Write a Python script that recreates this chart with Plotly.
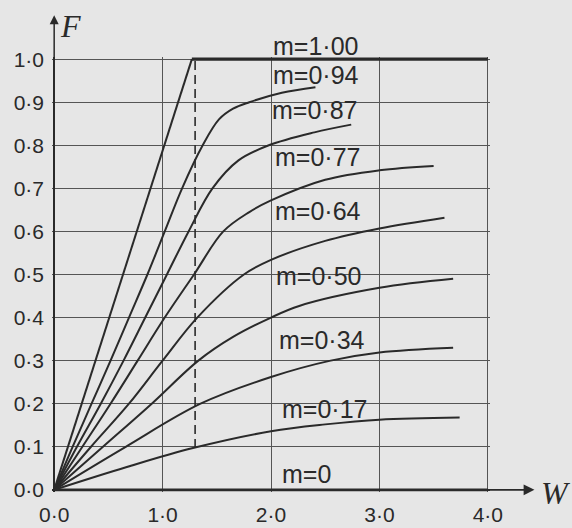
import plotly.graph_objects as go

# ---- data ----
x_tick_vals = [0, 1, 2, 3, 4]
x_tick_text = ["0·0", "1·0", "2·0", "3·0", "4·0"]
y_tick_vals = [0.0, 0.1, 0.2, 0.3, 0.4, 0.5, 0.6, 0.7, 0.8, 0.9, 1.0]
y_tick_text = ["0·0", "0·1", "0·2", "0·3", "0·4", "0·5", "0·6", "0·7", "0·8", "0·9", "1·0"]

W_m100 = [0, 1.27, 4.0]
F_m100 = [0, 1.0, 1.0]
W_m094 = [0, 0.17, 0.345, 0.52, 0.69, 0.86, 1.02, 1.18, 1.37, 1.52, 1.65, 1.80, 2.10, 2.41]
F_m094 = [0, 0.10, 0.20, 0.30, 0.40, 0.50, 0.60, 0.70, 0.80, 0.86, 0.885, 0.90, 0.922, 0.935]
W_m087 = [0, 0.21, 0.43, 0.64, 0.84, 1.04, 1.24, 1.46, 1.70, 1.98, 2.40, 2.74]
F_m087 = [0, 0.10, 0.20, 0.30, 0.40, 0.50, 0.60, 0.70, 0.765, 0.80, 0.83, 0.848]
W_m077 = [0, 0.26, 0.52, 0.77, 1.02, 1.29, 1.56, 1.80, 2.00, 2.50, 3.00, 3.50]
F_m077 = [0, 0.10, 0.20, 0.30, 0.40, 0.50, 0.60, 0.645, 0.672, 0.72, 0.742, 0.752]
W_m064 = [0, 0.34, 0.69, 1.00, 1.32, 1.75, 2.00, 2.50, 3.00, 3.60]
F_m064 = [0, 0.10, 0.20, 0.30, 0.40, 0.50, 0.534, 0.578, 0.607, 0.632]
W_m050 = [0, 0.45, 0.90, 1.33, 1.65, 2.00, 2.26, 3.00, 3.68]
F_m050 = [0, 0.10, 0.20, 0.30, 0.355, 0.40, 0.427, 0.469, 0.49]
W_m034 = [0, 0.66, 1.35, 2.00, 2.55, 3.00, 3.68]
F_m034 = [0, 0.10, 0.20, 0.262, 0.30, 0.319, 0.33]
W_m017 = [0, 0.67, 1.28, 2.00, 2.50, 3.00, 3.74]
F_m017 = [0, 0.053, 0.097, 0.136, 0.152, 0.163, 0.168]
W_m000 = [0, 4.0]
F_m000 = [0, 0]

W_dash = [1.30, 1.30]
F_dash = [0.097, 1.0]

curve_labels = ["m=1·00", "m=0·94", "m=0·87", "m=0·77", "m=0·64", "m=0·50", "m=0·34", "m=0·17", "m=0"]
label_W = [2.01, 2.01, 2.0, 2.03, 2.03, 2.04, 2.06, 2.09, 2.09]
label_F = [1.030, 0.963, 0.882, 0.773, 0.647, 0.497, 0.348, 0.188, 0.037]

# ---- styling ----
INK = "#2a2a2a"
GRID = "#555555"
BG = "#e6e6e6"

W_px, H_px = 572, 528
x0px, x4px = 54, 488
y0px, y1px = 490, 59
sx = (x4px - x0px) / 4.0
sy = (y0px - y1px) / 1.0
xr = [-0.02, 4.02]
yr = [-0.005, 1.005]
ml = x0px + xr[0] * sx
pw = (xr[1] - xr[0]) * sx
mr = W_px - ml - pw
mt = y1px - (yr[1] - 1.0) * sy
ph = (yr[1] - yr[0]) * sy
mb = H_px - mt - ph

fig = go.Figure()

curves = [
    (W_m094, F_m094), (W_m087, F_m087), (W_m077, F_m077), (W_m064, F_m064),
    (W_m050, F_m050), (W_m034, F_m034), (W_m017, F_m017),
]
for w, f in curves:
    fig.add_trace(go.Scatter(x=w, y=f, mode="lines",
                             line=dict(color=INK, width=2, shape="spline", smoothing=1.0),
                             hoverinfo="skip", showlegend=False))

fig.add_trace(go.Scatter(x=W_m100[:2], y=F_m100[:2], mode="lines",
                         line=dict(color=INK, width=2), showlegend=False, hoverinfo="skip"))
fig.add_trace(go.Scatter(x=W_m100[1:], y=F_m100[1:], mode="lines",
                         line=dict(color=INK, width=3.2), showlegend=False, hoverinfo="skip"))
fig.add_trace(go.Scatter(x=W_m000, y=F_m000, mode="lines",
                         line=dict(color=INK, width=2.6), showlegend=False, hoverinfo="skip"))
fig.add_trace(go.Scatter(x=W_dash, y=F_dash, mode="lines",
                         line=dict(color=INK, width=1.6, dash="9px,5px"),
                         showlegend=False, hoverinfo="skip"))

LABEL_FONT = dict(family="Liberation Sans, Arial, sans-serif", size=25, color=INK)
annotations = []
for t, w, f in zip(curve_labels, label_W, label_F):
    annotations.append(dict(x=(x0px + w * sx - ml) / pw, y=(H_px - mb - (y0px - f * sy)) / ph,
                            xref="paper", yref="paper", text=t, showarrow=False,
                            xanchor="left", yanchor="middle", borderpad=0, font=LABEL_FONT))

# axis arrows
annotations.append(dict(x=0, y=1.102, xref="x", yref="y", ax=0, ay=1.0, axref="x", ayref="y",
                        text="", showarrow=True, arrowhead=2, arrowsize=1.2, arrowwidth=1.5,
                        arrowcolor=INK))
annotations.append(dict(x=4.43, y=0, xref="x", yref="y", ax=4.0, ay=0, axref="x", ayref="y",
                        text="", showarrow=True, arrowhead=2, arrowsize=1.2, arrowwidth=1.8,
                        arrowcolor=INK))
# axis titles
TITLE_FONT = dict(family="Liberation Serif, Times New Roman, serif", size=32, color=INK)
annotations.append(dict(x=(70 - ml) / pw, y=(H_px - mb - 26) / ph, xref="paper", yref="paper",
                        text="<i>F</i>", showarrow=False, xanchor="center", yanchor="middle",
                        font=TITLE_FONT))
annotations.append(dict(x=(556 - ml) / pw, y=(H_px - mb - 493) / ph, xref="paper", yref="paper",
                        text="<i>W</i>", showarrow=False, xanchor="center", yanchor="middle",
                        font=TITLE_FONT))

fig.update_layout(
    width=W_px, height=H_px,
    margin=dict(l=ml, r=mr, t=mt, b=mb, pad=0, autoexpand=False),
    paper_bgcolor=BG, plot_bgcolor=BG,
    showlegend=False,
    annotations=annotations,
    font=dict(family="Liberation Sans, Arial, sans-serif", color=INK),
)
TICK_FONT = dict(size=21, color=INK, family="Liberation Sans, Arial, sans-serif")
fig.update_xaxes(range=xr, tickvals=x_tick_vals, ticktext=x_tick_text, ticks="",
                 showgrid=True, gridcolor=GRID, gridwidth=1.2,
                 zeroline=True, zerolinecolor=INK, zerolinewidth=2,
                 showline=False, automargin=False, ticklabelstandoff=8,
                 tickfont=TICK_FONT)
fig.update_yaxes(range=yr, tickvals=y_tick_vals, ticktext=y_tick_text, ticks="",
                 showgrid=True, gridcolor=GRID, gridwidth=1.2,
                 zeroline=True, zerolinecolor=INK, zerolinewidth=2.4,
                 showline=False, automargin=False, ticklabelstandoff=7,
                 tickfont=TICK_FONT)

fig.write_html(
    "out.html",
    config={"displayModeBar": False},
    post_script="document.body.style.margin='0';document.body.style.backgroundColor='" + BG + "';",
)
